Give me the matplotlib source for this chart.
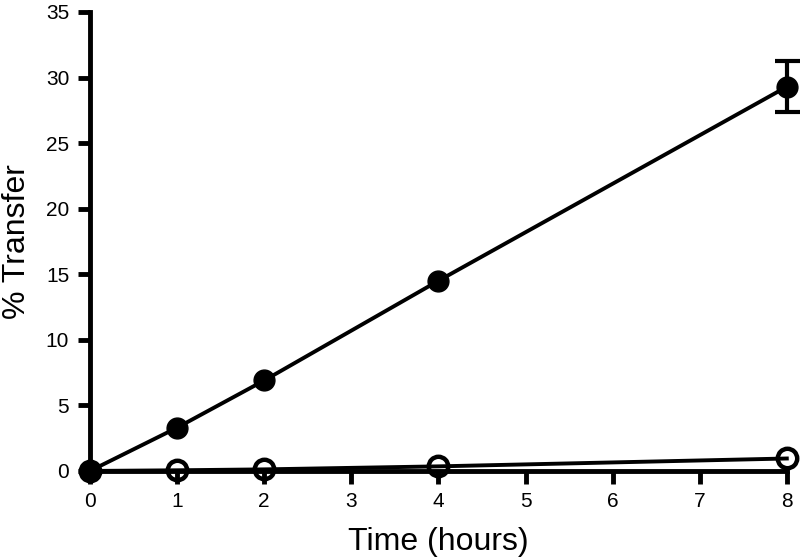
import numpy as np
import matplotlib
matplotlib.use("Agg")
import matplotlib.pyplot as plt

plt.rcParams['font.family'] = ['Liberation Sans', 'DejaVu Sans']

hours = [0, 1, 2, 4, 8]
transfer_a = [0, 3.3, 6.9, 14.5, 29.3]
err_a = [0, 0, 0, 0, 1.95]
transfer_b = [0, 0.05, 0.12, 0.35, 0.95]

fig = plt.figure(figsize=(8, 5.58), dpi=100)
ax = fig.add_axes([0.1125, 0.156, 0.871, 0.8225])

ax.plot(hours, transfer_b, color='black', lw=2.8, marker='o', markersize=14,
        markerfacecolor='none', markeredgewidth=3.2, clip_on=False, zorder=3)
ax.plot(hours, transfer_a, color='black', lw=2.8, marker='o', markersize=15,
        clip_on=False, zorder=4)
# only the 8 h point has a visible error bar
has_err = [i for i, e in enumerate(err_a) if e > 0]
ax.errorbar([hours[i] for i in has_err], [transfer_a[i] for i in has_err],
            yerr=[err_a[i] for i in has_err], fmt='none', ecolor='black',
            elinewidth=3, capsize=9, capthick=3, clip_on=False, zorder=4)

ax.set_xlim(0, 8)
ax.set_ylim(0, 35)
ax.set_xticks(range(0, 9))
ax.set_yticks(range(0, 36, 5))
ax.spines['top'].set_visible(False)
ax.spines['right'].set_visible(False)
ax.spines['left'].set_linewidth(3.5)
ax.spines['bottom'].set_linewidth(3.5)
ax.tick_params(direction='out', width=3.5, length=9, labelsize=15, pad=6)
ax.set_xlabel('Time (hours)', fontsize=23, labelpad=12)
ax.set_ylabel('% Transfer', fontsize=23, labelpad=10)

plt.savefig('out.png', dpi=100)
